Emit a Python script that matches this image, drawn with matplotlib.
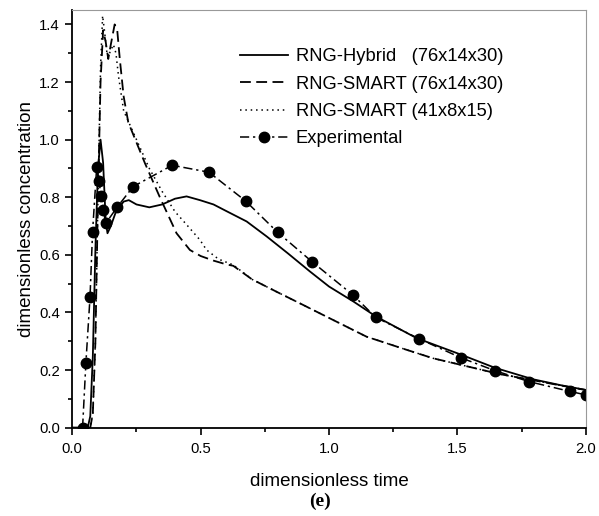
import matplotlib
matplotlib.use("Agg")
import matplotlib.pyplot as plt
from matplotlib.ticker import MultipleLocator

plt.rcParams["font.family"] = ["Liberation Sans", "DejaVu Sans"]

# RNG-Hybrid (76x14x30)
hyb_t = [0.0, 0.06, 0.07, 0.08, 0.09, 0.10, 0.11, 0.12, 0.13, 0.137, 0.15, 0.17, 0.20,
         0.22, 0.25, 0.30, 0.35, 0.40, 0.445, 0.497, 0.55, 0.60, 0.679, 0.757, 0.84,
         0.926, 1.00, 1.095, 1.183, 1.341, 1.513, 1.646, 1.795, 1.90, 2.00]
hyb_c = [0.0, 0.0, 0.04, 0.25, 0.62, 0.90, 1.00, 0.92, 0.72, 0.675, 0.70, 0.75, 0.785,
         0.79, 0.775, 0.765, 0.775, 0.795, 0.803, 0.79, 0.775, 0.752, 0.716, 0.664, 0.605,
         0.542, 0.49, 0.438, 0.386, 0.311, 0.254, 0.208, 0.168, 0.148, 0.131]

# RNG-SMART (76x14x30)
sm1_t = [0.0, 0.07, 0.08, 0.09, 0.10, 0.11, 0.12, 0.13, 0.14, 0.15, 0.165, 0.175, 0.185,
         0.20, 0.218, 0.25, 0.283, 0.341, 0.406, 0.458, 0.50, 0.55, 0.60, 0.627, 0.70,
         0.80, 0.886, 1.00, 1.146, 1.30, 1.405, 1.50, 1.665, 1.80, 1.90, 2.00]
sm1_c = [0.0, 0.0, 0.05, 0.30, 0.80, 1.20, 1.38, 1.34, 1.28, 1.33, 1.40, 1.38, 1.28,
         1.15, 1.06, 0.99, 0.918, 0.80, 0.675, 0.617, 0.596, 0.58, 0.567, 0.562, 0.515,
         0.47, 0.432, 0.381, 0.316, 0.271, 0.241, 0.221, 0.186, 0.164, 0.147, 0.131]

# RNG-SMART (41x8x15)
sm2_t = [0.0, 0.07, 0.08, 0.09, 0.10, 0.11, 0.118, 0.125, 0.135, 0.145, 0.16, 0.17, 0.18,
         0.20, 0.25, 0.30, 0.35, 0.40, 0.45, 0.497, 0.523, 0.57, 0.627, 0.70,
         0.80, 0.886, 1.00, 1.146, 1.30, 1.405, 1.50, 1.665, 1.80, 1.90, 2.00]
sm2_c = [0.0, 0.0, 0.05, 0.30, 0.80, 1.25, 1.43, 1.38, 1.30, 1.30, 1.33, 1.30, 1.22,
         1.10, 1.00, 0.90, 0.82, 0.75, 0.70, 0.652, 0.617, 0.585, 0.565, 0.515,
         0.47, 0.432, 0.381, 0.316, 0.271, 0.241, 0.221, 0.186, 0.164, 0.147, 0.131]

# Experimental
exp_t = [0.040, 0.053, 0.069, 0.079, 0.095, 0.104, 0.112, 0.121, 0.130, 0.175, 0.237,
         0.389, 0.532, 0.675, 0.800, 0.934, 1.094, 1.182, 1.350, 1.513, 1.646, 1.779,
         1.938, 2.000]
exp_c = [0.0, 0.226, 0.453, 0.681, 0.905, 0.855, 0.805, 0.756, 0.709, 0.766, 0.837,
         0.911, 0.887, 0.787, 0.678, 0.576, 0.460, 0.383, 0.309, 0.243, 0.198, 0.160,
         0.126, 0.114]

fig = plt.figure(figsize=(5.99, 5.16), dpi=100)
ax = fig.add_axes([0.1207, 0.1711, 0.8573, 0.8095])

ax.plot(hyb_t, hyb_c, color="black", lw=1.3, label="RNG-Hybrid   (76x14x30)")
ax.plot(sm1_t, sm1_c, color="black", lw=1.3, linestyle=(0, (6, 3)),
        label="RNG-SMART (76x14x30)")
ax.plot(sm2_t, sm2_c, color="black", lw=1.1, linestyle=(0, (1, 2.5)),
        label="RNG-SMART (41x8x15)")
ax.plot(exp_t, exp_c, color="black", lw=1.1, linestyle=(0, (6, 2.5, 1.5, 2.5)),
        marker="o", markersize=7.5, label="Experimental")

ax.set_xlim(0, 2.0)
ax.set_ylim(0, 1.45)
ax.xaxis.set_major_locator(MultipleLocator(0.5))
ax.xaxis.set_minor_locator(MultipleLocator(0.25))
ax.yaxis.set_major_locator(MultipleLocator(0.2))
ax.yaxis.set_minor_locator(MultipleLocator(0.1))
ax.xaxis.set_major_formatter(plt.FormatStrFormatter("%.1f"))
ax.yaxis.set_major_formatter(plt.FormatStrFormatter("%.1f"))
ax.tick_params(which="major", direction="out", length=5, width=1.2, labelsize=10.7,
               top=False, right=False)
ax.tick_params(axis="x", which="major", pad=5.5)
ax.tick_params(axis="y", which="major", pad=4)
ax.tick_params(which="minor", direction="out", length=3, width=1.2, top=False, right=False)

for s in ["left", "bottom"]:
    ax.spines[s].set_linewidth(1.3)
for s in ["top", "right"]:
    ax.spines[s].set_color("#999999")
    ax.spines[s].set_linewidth(0.8)

ax.set_xlabel("dimensionless time", fontsize=13.5, labelpad=12)
ax.set_ylabel("dimensionless concentration", fontsize=13.5, labelpad=3)

ax.legend(loc="upper left", bbox_to_anchor=(0.3265, 0.908), frameon=False, fontsize=13.2,
          handlelength=2.6, handletextpad=0.44, labelspacing=0.56, numpoints=1,
          borderpad=0, borderaxespad=0)

fig.text(0.534, 0.029, "(e)", ha="center", va="center", fontsize=14, fontweight="bold",
         family="Liberation Serif")

fig.savefig("out.png", dpi=100)
